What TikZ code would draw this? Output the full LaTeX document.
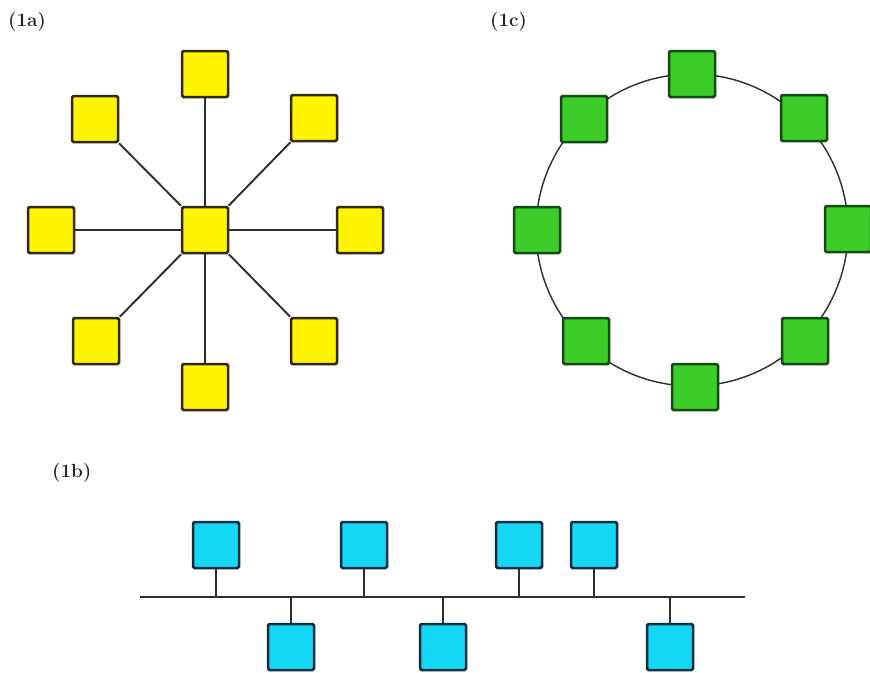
\documentclass[tikz,border=0pt]{standalone}
\usepackage{fontspec}
\usepackage{xcolor}
\definecolor{staryel}{RGB}{255,245,0}
\definecolor{stardk}{RGB}{50,40,20}
\definecolor{ringgrn}{RGB}{60,205,40}
\definecolor{ringdk}{RGB}{20,75,20}
\definecolor{buscyan}{RGB}{20,215,245}
\definecolor{busdk}{RGB}{15,45,65}
\definecolor{wire}{RGB}{45,45,45}
\begin{document}
\begin{tikzpicture} [x=1pt, y=-1pt,
    box/.style={rectangle, rounded corners=1.5pt, minimum size=46pt, inner sep=0pt, line width=2.5pt},
    ystn/.style={box, draw=stardk, fill=staryel},
    gstn/.style={box, draw=ringdk, fill=ringgrn},
    cstn/.style={box, draw=busdk, fill=buscyan},
    link/.style={draw=wire, line width=1.9pt},
    tag/.style={anchor=west, inner sep=0pt, text=black!85, font=\fontsize{19}{21}\selectfont\bfseries}]
    \useasboundingbox (0, 0) rectangle (870, 672);
    % labels
    \node[tag] (la) at (8, 22) {(1a)};
    \node[tag] (lc) at (490, 22) {(1c)};
    \node[tag] (lb) at (52, 473) {(1b)};
    % star
    \node[ystn] (s0) at (205, 230) {};
    \node[ystn] (s1) at (205, 74) {};
    \node[ystn] (s2) at (314, 118) {};
    \node[ystn] (s3) at (360, 230) {};
    \node[ystn] (s4) at (314, 341) {};
    \node[ystn] (s5) at (205, 387) {};
    \node[ystn] (s6) at (96, 341) {};
    \node[ystn] (s7) at (51, 230) {};
    \node[ystn] (s8) at (95, 119) {};
    \draw[link] (s0) -- (s1);
    \draw[link] (s0) -- (s2);
    \draw[link] (s0) -- (s3);
    \draw[link] (s0) -- (s4);
    \draw[link] (s0) -- (s5);
    \draw[link] (s0) -- (s6);
    \draw[link] (s0) -- (s7);
    \draw[link] (s0) -- (s8);
    % ring
    \coordinate (c0) at (692, 230);
    \draw[draw=wire, line width=1.4pt] (c0) circle (156);
    \node[gstn] (r1) at (692, 74) {};
    \node[gstn] (r2) at (804, 118) {};
    \node[gstn] (r3) at (848, 229) {};
    \node[gstn] (r4) at (805, 341) {};
    \node[gstn] (r5) at (695, 387) {};
    \node[gstn] (r6) at (586, 341) {};
    \node[gstn] (r7) at (537, 230) {};
    \node[gstn] (r8) at (584, 119) {};
    % bus
    \coordinate (e1) at (140, 597);
    \coordinate (e2) at (745, 597);
    \draw[draw=wire, line width=2.8pt] (e1) -- (e2);
    \node[cstn] (b1) at (216, 545) {};
    \node[cstn] (b2) at (364, 545) {};
    \node[cstn] (b3) at (519, 545) {};
    \node[cstn] (b4) at (594, 545) {};
    \node[cstn] (b5) at (291, 647) {};
    \node[cstn] (b6) at (443, 647) {};
    \node[cstn] (b7) at (670, 647) {};
    \coordinate (t1) at (216, 597);
    \coordinate (t2) at (364, 597);
    \coordinate (t3) at (519, 597);
    \coordinate (t4) at (594, 597);
    \coordinate (t5) at (291, 597);
    \coordinate (t6) at (443, 597);
    \coordinate (t7) at (670, 597);
    \draw[link] (b1) -- (t1);
    \draw[link] (b2) -- (t2);
    \draw[link] (b3) -- (t3);
    \draw[link] (b4) -- (t4);
    \draw[link] (b5) -- (t5);
    \draw[link] (b6) -- (t6);
    \draw[link] (b7) -- (t7);
\end{tikzpicture}
\end{document}
